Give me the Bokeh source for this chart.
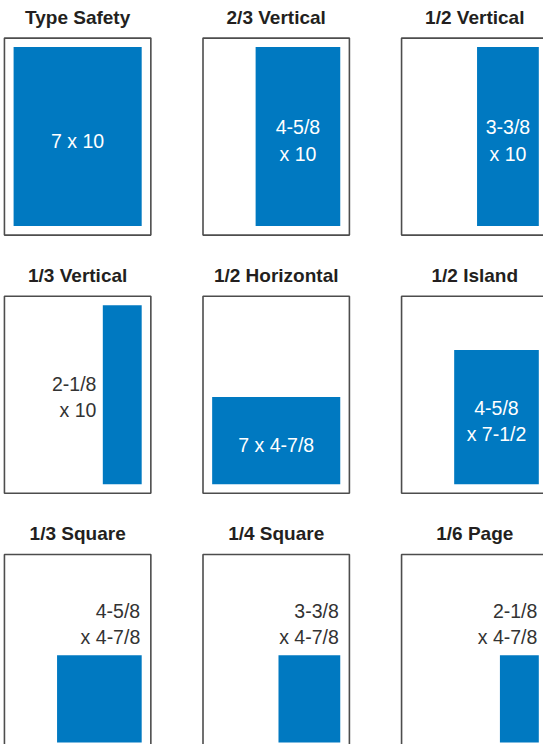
from bokeh.plotting import figure
from bokeh.models import Range1d
from bokeh.core.properties import value
from bokeh.embed import file_html
from bokeh.resources import INLINE

# ---- data ----
titles = ["Type Safety", "2/3 Vertical", "1/2 Vertical",
          "1/3 Vertical", "1/2 Horizontal", "1/2 Island",
          "1/3 Square", "1/4 Square", "1/6 Page"]
size_labels = ["7 x 10", "4-5/8 x 10", "3-3/8 x 10",
               "2-1/8 x 10", "7 x 4-7/8", "4-5/8 x 7-1/2",
               "4-5/8 x 4-7/8", "3-3/8 x 4-7/8", "2-1/8 x 4-7/8"]
ad_width = [7, 4.625, 3.375, 2.125, 7, 4.625, 4.625, 3.375, 2.125]      # inches
ad_height = [10, 10, 10, 10, 4.875, 7.5, 4.875, 4.875, 4.875]          # inches
label_place = ["inside", "inside", "inside",
               "left", "inside", "inside",
               "above", "above", "above"]

# ---- layout (inches) ----
PAGE_W, PAGE_H = 8.0, 11.0
MARGIN = 0.5
COL_PITCH, ROW_PITCH = 10.85, 14.42
SX, SY = 18.57, 18.1          # nominal px per inch (before fitting the window)
VIEW_W, VIEW_H = 551, 752
FIG_W, FIG_H = 543, 744

BLUE = "#0079C1"
DARK = "#231F20"
GRAY = "#333333"
BORDER = "#4D4D4D"

page_l, page_r, page_t, page_b = [], [], [], []
ad_l, ad_r, ad_t, ad_b = [], [], [], []
title_x, title_y = [], []
in_x, in_y, in_t = [], [], []
left_x, left_y, left_t = [], [], []
ab_x, ab_y, ab_t = [], [], []

for i in range(len(titles)):
    col, row = i % 3, i // 3
    x0 = col * COL_PITCH
    y0 = row * ROW_PITCH
    page_l.append(x0); page_r.append(x0 + PAGE_W)
    page_t.append(y0); page_b.append(y0 + PAGE_H)
    r = x0 + PAGE_W - MARGIN
    b = y0 + PAGE_H - MARGIN
    l = r - ad_width[i]
    t = b - ad_height[i]
    ad_l.append(l); ad_r.append(r); ad_t.append(t); ad_b.append(b)
    title_x.append(x0 + PAGE_W / 2); title_y.append(y0 - 1.16)
    lab = size_labels[i]
    if label_place[i] == "inside":
        txt = lab if ad_width[i] >= 7 else lab.replace(" x ", "\nx ")
        in_x.append((l + r) / 2); in_y.append((t + b) / 2 + 0.22); in_t.append(txt)
    elif label_place[i] == "left":
        left_x.append(l - 0.35); left_y.append((t + b) / 2 + 0.12)
        left_t.append(lab.replace(" x ", "\nx "))
    else:
        ab_x.append(r - 0.08); ab_y.append(t - 1.75)
        ab_t.append(lab.replace(" x ", "\nx "))

x_start = -4.0 / SX
y_top = -38.0 / SY
p = figure(width=FIG_W, height=FIG_H, output_backend="svg", toolbar_location=None,
           x_range=Range1d(x_start, x_start + VIEW_W / SX),
           y_range=Range1d(y_top + VIEW_H / SY, y_top),
           min_border=0)
p.axis.visible = False
p.grid.visible = False
p.outline_line_color = None
p.background_fill_color = "white"

p.quad(left=page_l, right=page_r, top=page_t, bottom=page_b,
       fill_color="white", line_color=BORDER, line_width=1.6)
p.quad(left=ad_l, right=ad_r, top=ad_t, bottom=ad_b,
       fill_color=BLUE, line_color=None)

p.text(x=title_x, y=title_y, text=titles, text_align="center", text_baseline="middle",
       text_font=value("Liberation Sans"), text_font_style="bold",
       text_font_size="19px", text_color=DARK)

p.text(x=in_x, y=in_y, text=in_t, text_align="center", text_baseline="middle",
       text_font=value("Liberation Sans"), text_font_size="19.5px",
       text_color="white", text_line_height=1.2)
p.text(x=left_x, y=left_y, text=left_t, text_align="right", text_baseline="middle",
       text_font=value("Liberation Sans"), text_font_size="19.5px",
       text_color=GRAY, text_line_height=1.2)
p.text(x=ab_x, y=ab_y, text=ab_t, text_align="right", text_baseline="middle",
       text_font=value("Liberation Sans"), text_font_size="19.5px",
       text_color=GRAY, text_line_height=1.15)

open("out.html", "w").write(file_html(p, INLINE))
